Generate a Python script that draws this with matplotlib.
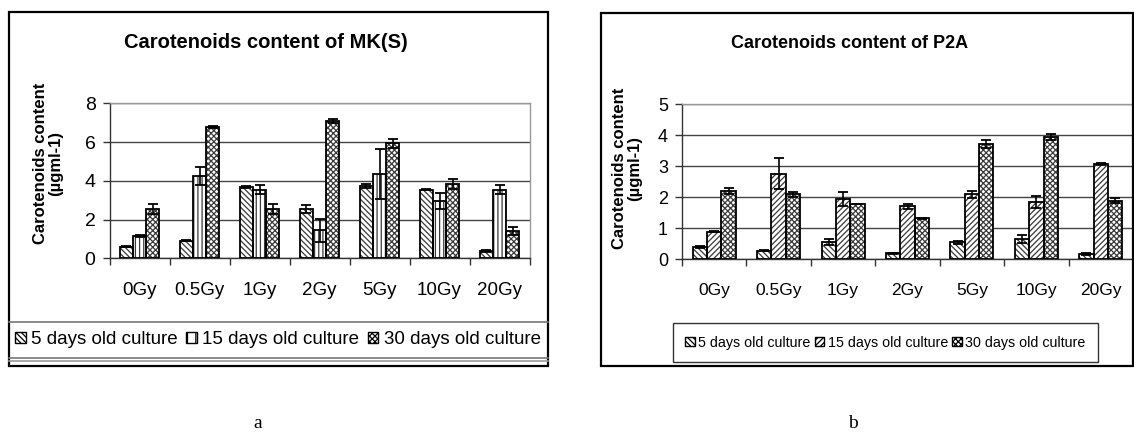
import numpy as np
import matplotlib
matplotlib.use("Agg")
import matplotlib.pyplot as plt
from matplotlib.patches import Rectangle, Patch
from matplotlib.lines import Line2D

# data
doses = ["0Gy", "0.5Gy", "1Gy", "2Gy", "5Gy", "10Gy", "20Gy"]
series = ["5 days old culture", "15 days old culture", "30 days old culture"]

mk_5d = [0.60, 0.90, 3.70, 2.55, 3.75, 3.55, 0.38]
mk_5d_err = [0.04, 0.03, 0.05, 0.20, 0.10, 0.03, 0.03]
mk_15d = [1.15, 4.25, 3.55, 1.45, 4.35, 2.95, 3.55]
mk_15d_err = [0.05, 0.45, 0.25, 0.60, 1.30, 0.40, 0.25]
mk_30d = [2.55, 6.78, 2.55, 7.08, 5.93, 3.82, 1.42]
mk_30d_err = [0.25, 0.07, 0.27, 0.10, 0.22, 0.25, 0.20]

p2a_5d = [0.40, 0.27, 0.56, 0.18, 0.54, 0.65, 0.16]
p2a_5d_err = [0.03, 0.01, 0.10, 0.01, 0.04, 0.12, 0.03]
p2a_15d = [0.88, 2.75, 1.94, 1.70, 2.09, 1.85, 3.07]
p2a_15d_err = [0.01, 0.50, 0.22, 0.07, 0.12, 0.20, 0.02]
p2a_30d = [2.21, 2.10, 1.78, 1.31, 3.72, 3.93, 1.88]
p2a_30d_err = [0.10, 0.08, 0.01, 0.02, 0.14, 0.10, 0.08]

W, H = 1134, 433
plt.rcParams['font.family'] = ['Liberation Sans', 'DejaVu Sans']
plt.rcParams['hatch.linewidth'] = 0.9


def fx(x):
    return x / W


def fy(y):
    return 1 - y / H


def rect(x0, y0, x1, y1):
    return [fx(x0), fy(y1), (x1 - x0) / W, (y1 - y0) / H]


fig = plt.figure(figsize=(W / 100, H / 100), dpi=100)
hcol = '#3a3a3a'
width = 0.222
x = np.arange(len(doses))


def draw_chart(ax, vals, errs, hatches, ymax, ystep, fs):
    for i, (v, e, h) in enumerate(zip(vals, errs, hatches)):
        pos = x + (i - 1) * width
        ax.bar(pos, v, width, color='white', edgecolor=hcol, hatch=h,
               linewidth=0, zorder=2)
        ax.bar(pos, v, width, fill=False, edgecolor='black', linewidth=1.3,
               zorder=3)
        ax.errorbar(pos, v, yerr=e, fmt='none', ecolor='black',
                    elinewidth=1.2, capsize=3.5, capthick=1.3, zorder=4)
    ax.set_xlim(-0.5, len(doses) - 0.5)
    ax.set_ylim(0, ymax)
    ax.set_yticks(np.arange(0, ymax + 1, ystep))
    ax.yaxis.grid(True, color='#444444', linewidth=1)
    ax.set_axisbelow(True)
    ax.set_xticks(np.arange(-0.5, len(doses), 1))
    ax.set_xticklabels([])
    ax.set_xticks(x, minor=True)
    ax.set_xticklabels(doses, minor=True, fontsize=fs)
    ax.tick_params(axis='x', which='major', direction='out', length=5,
                   width=1, color='#333333')
    ax.tick_params(axis='x', which='minor', length=0, pad=17)
    ax.tick_params(axis='y', direction='out', length=5, width=1,
                   color='#333333', pad=5, labelsize=fs + 0.5)
    ax.spines['left'].set_color('#333333')
    ax.spines['bottom'].set_color('#333333')
    ax.spines['top'].set_color('#999999')
    ax.spines['right'].set_color('#999999')
    for s in ax.spines.values():
        s.set_linewidth(1)


# left chart: MK(S)
ax1 = fig.add_axes(rect(109.5, 103.3, 529.5, 258.3))
h_left = ['\\\\\\\\\\\\', '||||', 'xxxxxx']
draw_chart(ax1, [mk_5d, mk_15d, mk_30d], [mk_5d_err, mk_15d_err, mk_30d_err],
           h_left, 8, 2, 13.5)
fig.text(fx(266), fy(42), "Carotenoids content of MK(S)", ha='center',
         va='center', fontsize=14.5, fontweight='bold')
fig.text(fx(48), fy(163), "Carotenoids content\n(\u00b5gml-1)", ha='center',
         va='center', rotation=90, fontsize=12, fontweight='bold',
         linespacing=1.05)
fig.add_artist(Rectangle((fx(8.7), fy(366)), (547.7 - 8.7) / W, (366 - 12.3) / H,
                         transform=fig.transFigure, fill=False,
                         edgecolor='black', linewidth=1.6))
for yy, c in [(322.3, '#777777'), (358.3, '#777777'), (361.3, '#999999')]:
    fig.add_artist(Line2D([fx(8.7), fx(547.7)], [fy(yy), fy(yy)],
                          transform=fig.transFigure, color=c, linewidth=1.2))
handles1 = [Patch(facecolor='white', edgecolor='black', hatch=h, linewidth=1)
            for h in ['\\\\\\\\\\\\', '||', 'xxxxxx']]
fig.legend(handles1, series, loc='center', ncol=3,
           bbox_to_anchor=(fx(278), fy(339.5)), frameon=False, fontsize=13.5,
           handlelength=0.55, handleheight=0.55, handletextpad=0.3,
           columnspacing=0.45, borderaxespad=0)

# right chart: P2A
ax2 = fig.add_axes(rect(682, 104.3, 1133, 259))
h_right = ['\\\\\\\\\\\\', '//////', 'xxxxxx']
draw_chart(ax2, [p2a_5d, p2a_15d, p2a_30d],
           [p2a_5d_err, p2a_15d_err, p2a_30d_err], h_right, 5, 1, 12.5)
fig.text(fx(850), fy(44), "Carotenoids content of P2A", ha='center',
         va='center', fontsize=13, fontweight='bold')
fig.text(fx(627), fy(168), "Carotenoids content\n(\u00b5gml-1)", ha='center',
         va='center', rotation=90, fontsize=12, fontweight='bold',
         linespacing=1.05)
fig.add_artist(Rectangle((fx(601), fy(366)), (1132.5 - 601) / W, (366 - 13) / H,
                         transform=fig.transFigure, fill=False,
                         edgecolor='black', linewidth=1.6))
handles2 = [Patch(facecolor='white', edgecolor='black', hatch=h, linewidth=1)
            for h in h_right]
leg2 = fig.legend(handles2, series, loc='center', ncol=3,
                  bbox_to_anchor=(fx(885.5), fy(342.5)), frameon=True,
                  fancybox=False, edgecolor='black', fontsize=10.3,
                  handlelength=0.65, handleheight=0.65, handletextpad=0.25,
                  columnspacing=0.3, borderpad=0.85, borderaxespad=0)
leg2.get_frame().set_linewidth(1.0)

# captions
fig.text(fx(258), fy(423), "a", ha='center', va='center', fontsize=14,
         family=['Liberation Serif', 'DejaVu Serif'])
fig.text(fx(853), fy(423), "b", ha='center', va='center', fontsize=14,
         family=['Liberation Serif', 'DejaVu Serif'])

fig.savefig("out.png", dpi=100)
